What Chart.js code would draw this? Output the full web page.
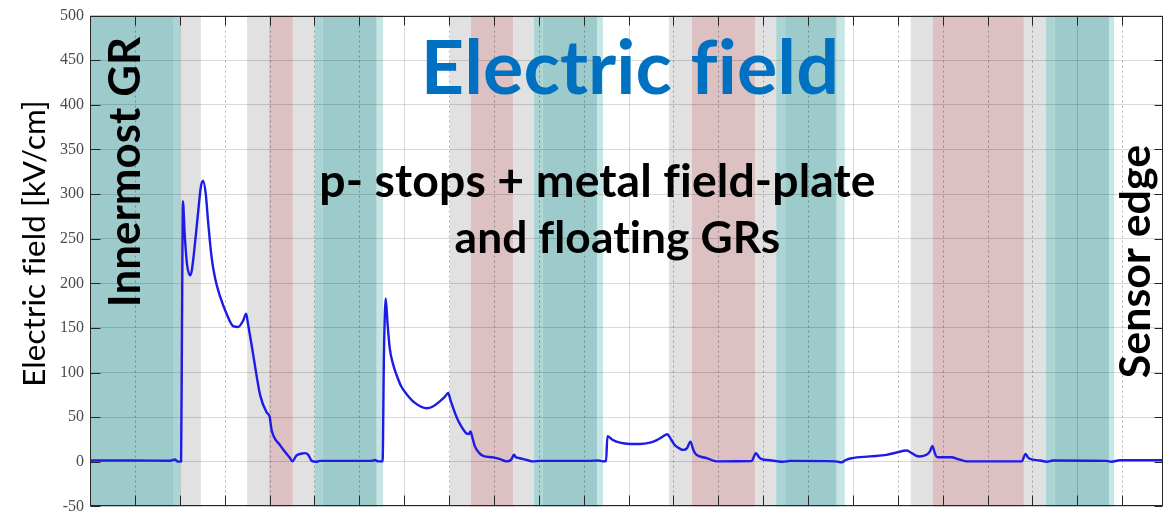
<!DOCTYPE html>
<html>
<head>
<meta charset="utf-8">
<script src="https://cdn.jsdelivr.net/npm/chart.js@4.4.1/dist/chart.umd.min.js"></script>
<style>
  html, body { margin: 0; padding: 0; background: #fff; }
  #wrap { width: 1163px; height: 522px; position: relative; }
</style>
</head>
<body>
<div id="wrap"><canvas id="field-chart"></canvas></div>
<script>
// distance along the sensor [um]
const positions = [
  0, 9, 17.8, 18.9, 19.6, 20.3, 20.5, 20.7, 21.1, 21.6, 22.3, 22.7, 23.4, 24.1, 24.7, 25.2, 25.8, 26.3, 27.1, 27.9,
  29.0, 30.5, 31.9, 33.0, 34.1, 34.8, 35.2, 36.4, 37.9, 39.4, 40.0, 40.5, 42.3, 44.6, 45.1, 46.0, 47.0, 47.9, 48.6, 49.4,
  50.4, 51.2, 60.2, 62.8, 63.5, 64.2, 65.2, 65.5, 65.9, 66.3, 66.8, 67.5, 68.3, 69.3, 70.6, 72.4, 75.0, 76.4, 78.0, 79.1,
  79.8, 80.4, 81.7, 82.7, 83.9, 84.4, 84.8, 85.1, 85.8, 86.7, 87.6, 89.8, 91.4, 92.8, 93.8, 94.5, 94.9, 95.8, 97.4, 98.7,
  100.3, 111.4, 113.2, 114.3, 115.0, 115.3, 116.3, 118.1, 120.3, 122.5, 124.8, 126.3, 127.7, 128.6, 129.5, 130.3, 131.5, 132.2, 133.0, 133.8,
  134.4, 134.8, 135.9, 137.4, 139.6, 147.4, 148.4, 149.1, 149.7, 151.5, 153.3, 154.4, 156.0, 166.2, 167.5, 168.4, 169.7, 173.8, 177.5, 179.7,
  182.0, 183.1, 184.0, 184.9, 186.4, 187.2, 187.7, 188.3, 188.7, 190.5, 192.0, 193.4, 195.3, 207.6, 208.5, 209.0, 209.4, 211.7, 213.2, 214.6,
  226.5, 227.6, 229.5, 239.1
];
// electric field [kV/cm]
const field = [
  1.5, 1.5, 1.2, 2.5, 0.2, 0.5, 150, 292, 255, 222, 209, 215, 245, 280, 308, 315, 300, 270, 229, 205,
  185, 165, 152, 151, 158, 166, 155, 119, 75, 55, 51, 35, 19, 4, 0.5, 7, 9, 9.7, 8, 1,
  0, 1, 1, 1, 2, 0.5, 0.5, 120, 183, 155, 127, 110, 97.5, 85, 75.5, 66, 60, 62, 68, 73,
  77, 68, 50, 40, 31.6, 31, 34, 29, 17, 10, 6.7, 5, 3, 0.5, 2, 7.8, 5, 4, 2, 0.5,
  1, 1, 1.5, 0.5, 1, 28.7, 25, 21.4, 20, 19.9, 21.5, 24.3, 28.5, 30.9, 25, 18.8, 14.5, 13.3, 15, 22.5,
  14, 9.7, 6, 4.2, 0.5, 0.8, 9.7, 5, 3, 1.7, 0.5, 0, 1, 0.5, -0.6, 2, 4, 6, 7.8, 10.4,
  12.6, 9.7, 7, 6, 7.8, 12, 17.7, 9, 5.3, 5, 5, 3, 0.5, 0.5, 8.9, 5, 3.4, 1.5, 0, 1.5,
  1, 0, 1.7, 1.7
];

// shaded structure regions along the sensor [um]
const bandFrom = [0, 18.5, 20.1, 35.0, 39.9, 45.2, 50.1, 51.9, 63.9, 80.2, 84.9, 94.3, 98.9, 100.9, 113.0,
  129.0, 134.1, 148.2, 152.9, 154.9, 166.4, 182.9, 187.8, 208.1, 213.0, 215.0, 227.1];
const bandTo = [18.5, 20.1, 24.7, 39.9, 45.2, 50.1, 51.9, 63.9, 65.3, 84.9, 94.3, 98.9, 100.9, 113.0, 114.3,
  134.1, 148.2, 152.9, 154.9, 166.4, 168.2, 187.8, 208.1, 213.0, 215.0, 227.1, 228.2];
const bandKind = ['teal', 'tealMid', 'gray', 'gray', 'red', 'gray', 'tealMid', 'teal', 'tealLight', 'gray', 'red', 'gray', 'tealMid', 'teal', 'tealLight',
  'gray', 'red', 'gray', 'tealMid', 'teal', 'tealLight', 'gray', 'red', 'gray', 'tealMid', 'teal', 'tealLight'];

const fieldTicks = [-50, 0, 50, 100, 150, 200, 250, 300, 350, 400, 450, 500];
const gridLines = [0, 10, 20, 30, 40, 50, 60, 70, 80, 90, 100, 110, 120, 130, 140, 150, 160, 170, 180, 190, 200, 210, 220, 230];
const majorLines = [20, 70, 120, 170, 220];

const bandColors = {
  teal: '#9dcbcb',
  tealMid: '#abd4d4',
  tealLight: '#c6e5e5',
  gray: '#e1e1e1',
  red: '#dcc0c2'
};

const axisColor = '#262626';

function fitSize(ctx, text, weight, family, width) {
  ctx.font = weight + ' 100px ' + family;
  return 100 * width / ctx.measureText(text).width;
}

function drawLabel(ctx, text, cx, base, width, opts) {
  const family = '"Lato", "Open Sans", sans-serif';
  ctx.save();
  // tiny spacing keeps "fi" as two letters, like the original
  ctx.letterSpacing = '0.1px';
  const size = fitSize(ctx, text, opts.weight, family, width);
  ctx.translate(cx, base);
  if (opts.rotate) ctx.rotate(-Math.PI / 2);
  ctx.font = opts.weight + ' ' + size + 'px ' + family;
  ctx.fillStyle = opts.color;
  ctx.textAlign = 'center';
  ctx.textBaseline = 'alphabetic';
  ctx.fillText(text, 0, 0);
  ctx.restore();
}

const decor = {
  id: 'decor',
  beforeDraw(chart) {
    const {ctx, chartArea: a, scales: {x}} = chart;
    ctx.save();
    ctx.fillStyle = '#fff';
    ctx.fillRect(0, 0, chart.width, chart.height);
    for (let i = 0; i < bandFrom.length; i++) {
      const x0 = x.getPixelForValue(bandFrom[i]);
      const x1 = x.getPixelForValue(bandTo[i]);
      ctx.fillStyle = bandColors[bandKind[i]];
      ctx.fillRect(x0, a.top, x1 - x0, a.bottom - a.top);
    }
    ctx.restore();
  },
  beforeDatasetsDraw(chart) {
    // vertical grid: solid majors, dotted minors
    const {ctx, chartArea: a, scales: {x}} = chart;
    ctx.save();
    ctx.lineWidth = 1;
    x.ticks.forEach(t => {
      if (t.value <= x.min) return;
      const px = Math.round(x.getPixelForValue(t.value)) + 0.5;
      const major = majorLines.includes(t.value);
      ctx.setLineDash(major ? [] : [2, 3]);
      ctx.strokeStyle = major ? 'rgba(0,0,0,0.15)' : 'rgba(0,0,0,0.3)';
      ctx.beginPath();
      ctx.moveTo(px, a.top);
      ctx.lineTo(px, a.bottom);
      ctx.stroke();
    });
    ctx.restore();
  },
  afterDatasetsDraw(chart) {
    // box with inward ticks, matlab style
    const {ctx, chartArea: a, scales: {x, y}} = chart;
    const L = Math.round(a.left) + 0.5, R = Math.round(a.right) - 0.5;
    const T = Math.round(a.top) + 0.5, B = Math.round(a.bottom) - 0.5;
    ctx.save();
    ctx.strokeStyle = axisColor;
    ctx.lineWidth = 1;
    ctx.strokeRect(L, T, R - L, B - T);
    ctx.beginPath();
    y.ticks.forEach(t => {
      const py = Math.round(y.getPixelForValue(t.value)) + 0.5;
      ctx.moveTo(L, py); ctx.lineTo(L + 10, py);
      ctx.moveTo(R, py); ctx.lineTo(R - 8, py);
    });
    x.ticks.forEach(t => {
      const px = Math.round(x.getPixelForValue(t.value)) + 0.5;
      ctx.moveTo(px, B); ctx.lineTo(px, B - 10);
      ctx.moveTo(px, T); ctx.lineTo(px, T + 9);
    });
    ctx.stroke();
    ctx.restore();
  },
  afterDraw(chart) {
    const ctx = chart.ctx;
    drawLabel(ctx, 'Electric field [kV/cm]', 45, 243.5, 285, {weight: 400, color: '#000', rotate: true});
    drawLabel(ctx, 'Electric field', 630, 94, 418, {weight: 700, color: '#0070c0'});
    drawLabel(ctx, 'p- stops + metal field-plate', 597.5, 197, 555, {weight: 700, color: '#000'});
    drawLabel(ctx, 'and floating GRs', 617.5, 253, 325, {weight: 700, color: '#000'});
    drawLabel(ctx, 'Innermost GR', 140, 172, 270, {weight: 700, color: '#000', rotate: true});
    drawLabel(ctx, 'Sensor edge', 1150, 261.5, 233, {weight: 700, color: '#000', rotate: true});
  }
};

const ctx = document.querySelector('#field-chart').getContext('2d');
const fieldChart = new Chart(ctx, {
  type: 'line',
  data: {
    datasets: [{
      label: 'Electric field',
      data: positions.map((p, i) => ({x: p, y: field[i]})),
      borderColor: '#1c1ce6',
      borderWidth: 2.4,
      pointRadius: 0,
      cubicInterpolationMode: 'monotone',
      fill: false
    }]
  },
  options: {
    responsive: true,
    maintainAspectRatio: false,
    animation: false,
    events: [],
    layout: {
      padding: {top: 14, right: 0, bottom: 0, left: 0}
    },
    plugins: {
      legend: {display: false},
      tooltip: {enabled: false}
    },
    scales: {
      x: {
        type: 'linear',
        min: 0,
        max: 239.1,
        afterBuildTicks: scale => { scale.ticks = gridLines.map(v => ({value: v})); },
        afterFit: scale => { scale.height = 7; },
        grid: {display: false},
        border: {display: false},
        ticks: {display: false}
      },
      y: {
        min: -50,
        max: 500,
        afterBuildTicks: scale => { scale.ticks = fieldTicks.map(v => ({value: v})); },
        afterFit: scale => { scale.width = 90; },
        grid: {
          color: 'rgba(0,0,0,0.15)',
          drawTicks: false
        },
        border: {display: false},
        ticks: {
          padding: 6,
          color: '#4a4a4a',
          font: {family: '"Liberation Serif", "DejaVu Serif", serif', size: 16}
        }
      }
    }
  },
  plugins: [decor]
});
</script>
</body>
</html>
